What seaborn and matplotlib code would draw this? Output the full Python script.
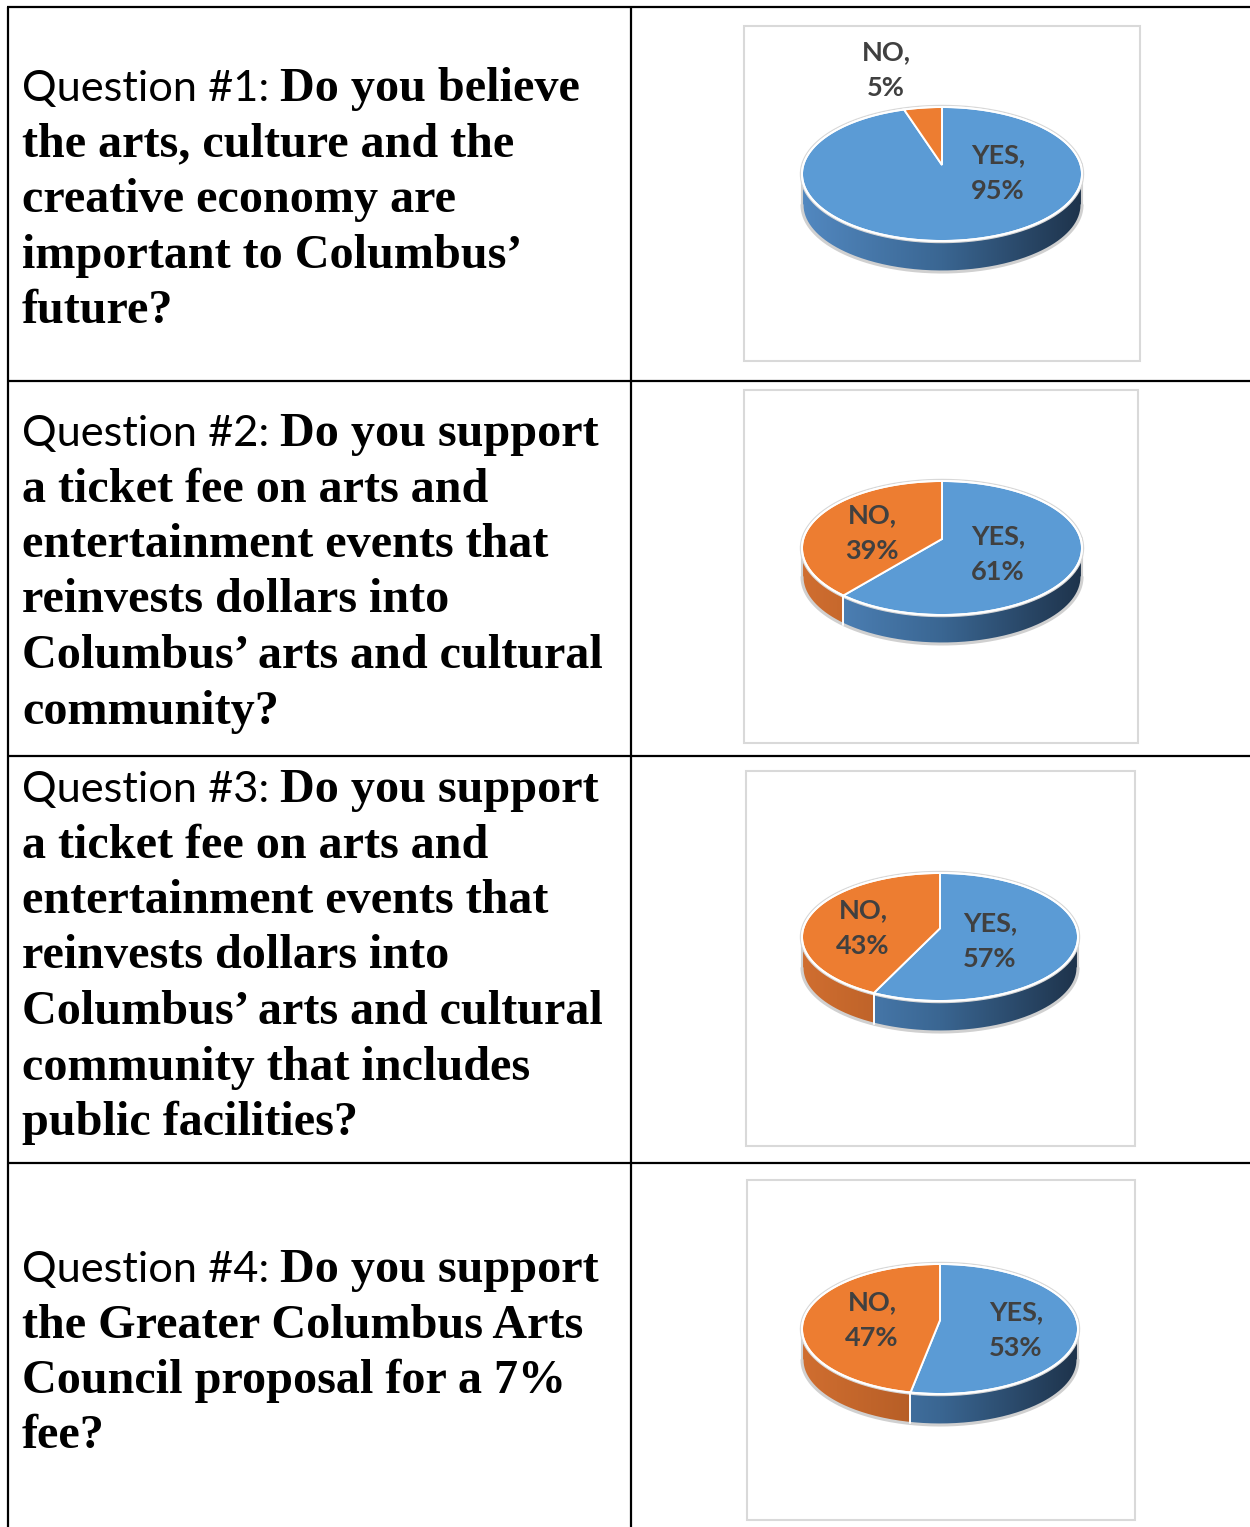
import numpy as np
import seaborn as sns
import matplotlib.pyplot as plt
from matplotlib.patches import Polygon, Rectangle

sns.set_theme(style='white')

# survey data
question_ids = ['Question #1:', 'Question #2:', 'Question #3:', 'Question #4:']
question_lines = [
    ['Do you believe', 'the arts, culture and the', 'creative economy are',
     'important to Columbus\u2019', 'future?'],
    ['Do you support', 'a ticket fee on arts and', 'entertainment events that',
     'reinvests dollars into', 'Columbus\u2019 arts and cultural', 'community?'],
    ['Do you support', 'a ticket fee on arts and', 'entertainment events that',
     'reinvests dollars into', 'Columbus\u2019 arts and cultural',
     'community that includes', 'public facilities?'],
    ['Do you support', 'the Greater Columbus Arts', 'Council proposal for a 7%', 'fee?'],
]
yes_pct = [95, 61, 57, 53]
no_pct = [5, 39, 43, 47]

# layout (pixels)
W, H = 1250, 1527
row_lines = [7, 381, 756, 1163]
col_x = [8, 631]
first_baseline = [101, 446, 802, 1282]
line_step = 55.5
chart_boxes = [(744, 26, 1140, 361), (744, 390, 1138, 743),
               (746, 771, 1135, 1146), (747, 1180, 1135, 1520)]
# ellipse centre x, y, half width, half height, wall depth
pie_geo = [(942, 174, 140, 67, 31), (942, 548, 140, 67, 29),
           (940, 937, 138, 64, 31), (940, 1329, 138, 65, 31)]
persp = 0.135
yes_label_pos = [(998, 173), (998, 554), (990, 941), (1016, 1330)]
no_label_pos = [(886, 70), (872, 533), (863, 928), (872, 1320)]

blue_top = '#5b9bd5'
orange_top = '#ed7d31'
blue_side = sns.blend_palette(['#5288c0', '#3a6692', '#1e334b'], as_cmap=True)
orange_side = sns.blend_palette(['#d06e30', '#b05a24', '#8a4418'], as_cmap=True)
label_color = '#404040'

fig = plt.figure(figsize=(W / 100, H / 100), dpi=100)
ax = fig.add_axes([0, 0, 1, 1])
ax.set_xlim(0, W)
ax.set_ylim(H, 0)
ax.axis('off')


def project(cx, cy, rx, ry, phis):
    # tilted circle seen in slight perspective
    k = persp
    r = np.radians(phis)
    u, v = np.cos(r), np.sin(r)
    X = u / (1 + k * v)
    Y = v / (1 + k * v)
    A = rx * np.sqrt(1 - k * k)
    B = ry * (1 - k * k)
    return cx + A * X, cy - B * (Y + k / (1 - k * k))


def draw_pie(cx, cy, rx, ry, depth, yes, no):
    k = persp
    apex_xy = [cx, cy - ry * k]
    slices = [(90 - 3.6 * yes, 90, blue_top, blue_side),
              (90, 90 + 3.6 * no, orange_top, orange_side)]
    # side walls (front half only)
    for a0, a1, top_c, cmap in slices:
        phis = np.linspace(a0, a1, 500)
        front = np.sin(np.radians(phis)) <= -k
        if front.sum() < 2:
            continue
        ph = phis[front]
        xs, ys = project(cx, cy, rx, ry, ph)
        pts = np.vstack([np.column_stack([xs, ys]),
                         np.column_stack([xs[::-1], ys[::-1] + depth])])
        poly = Polygon(pts, closed=True, facecolor='none', edgecolor='none')
        ax.add_patch(poly)
        grad = np.linspace(0, 1, 256).reshape(1, -1)
        im = ax.imshow(grad, cmap=cmap, aspect='auto',
                       extent=(cx - rx, cx + rx, cy + ry + depth, cy - ry),
                       interpolation='bilinear', zorder=2)
        im.set_clip_path(poly)
    # outer light outline of the whole body
    ph = np.linspace(180, 360, 300)
    ph = ph[np.sin(np.radians(ph)) <= -k]
    xs, ys = project(cx, cy, rx, ry, ph)
    ax.plot(xs, ys + depth, color='#d0d0d0', lw=2.2, zorder=3)
    for j in [0, -1]:
        ax.plot([xs[j], xs[j]], [ys[j], ys[j] + depth], color='#d0d0d0', lw=1.5, zorder=3)
    # top surface wedges
    for a0, a1, top_c, cmap in slices:
        phis = np.linspace(a0, a1, 300)
        xs, ys = project(cx, cy, rx, ry, phis)
        pts = np.vstack([apex_xy, np.column_stack([xs, ys])])
        ax.add_patch(Polygon(pts, closed=True, facecolor=top_c,
                             edgecolor='white', lw=1.4, zorder=4))
    xs, ys = project(cx, cy, rx, ry, np.linspace(0, 360, 400))
    ax.plot(xs, ys, color='#d8d8d8', lw=3.2, zorder=3.5)
    ax.plot(xs, ys, color='white', lw=1.4, zorder=5)
    # vertical seams on the side wall
    for b in [90 - 3.6 * yes, 90]:
        if np.sin(np.radians(b)) < -k:
            bx, by = project(cx, cy, rx, ry, np.array([b]))
            ax.plot([bx[0], bx[0]], [by[0], by[0] + depth], color='white', lw=1.4, zorder=5)


# table grid
for y in row_lines:
    ax.plot([7, W], [y, y], color='black', lw=1.6, solid_capstyle='butt')
for x in col_x:
    ax.plot([x, x], [row_lines[0], H], color='black', lw=1.6, solid_capstyle='butt')

fig.canvas.draw()
renderer = fig.canvas.get_renderer()
inv = ax.transData.inverted()

for i in range(4):
    base = first_baseline[i]
    t = ax.text(22, base, question_ids[i], family='Lato', fontsize=31.2,
                color='black', va='baseline', ha='left')
    bb = t.get_window_extent(renderer=renderer)
    x_end = inv.transform((bb.x1, bb.y0))[0]
    for k, line in enumerate(question_lines[i]):
        x0 = x_end + 11 if k == 0 else 22
        ax.text(x0, base + k * line_step, line, family='Liberation Serif',
                fontweight='bold', fontsize=34.7, color='black',
                va='baseline', ha='left')

    x0, y0, x1, y1 = chart_boxes[i]
    ax.add_patch(Rectangle((x0, y0), x1 - x0, y1 - y0, facecolor='white',
                           edgecolor='#d9d9d9', lw=1.5, zorder=1))
    cx, cy, rx, ry, depth = pie_geo[i]
    draw_pie(cx, cy, rx, ry, depth, yes_pct[i], no_pct[i])

    lx, ly = yes_label_pos[i]
    ax.text(lx, ly, f'YES,\n{yes_pct[i]}%', family='Lato', fontweight='bold',
            fontsize=19.5, color=label_color, ha='center', va='center',
            linespacing=1.62, zorder=6)
    lx, ly = no_label_pos[i]
    ax.text(lx, ly, f'NO,\n{no_pct[i]}%', family='Lato', fontweight='bold',
            fontsize=19.5, color=label_color, ha='center', va='center',
            linespacing=1.62, zorder=6)

ax.set_xlim(0, W)
ax.set_ylim(H, 0)
fig.savefig('out.png', dpi=100)
